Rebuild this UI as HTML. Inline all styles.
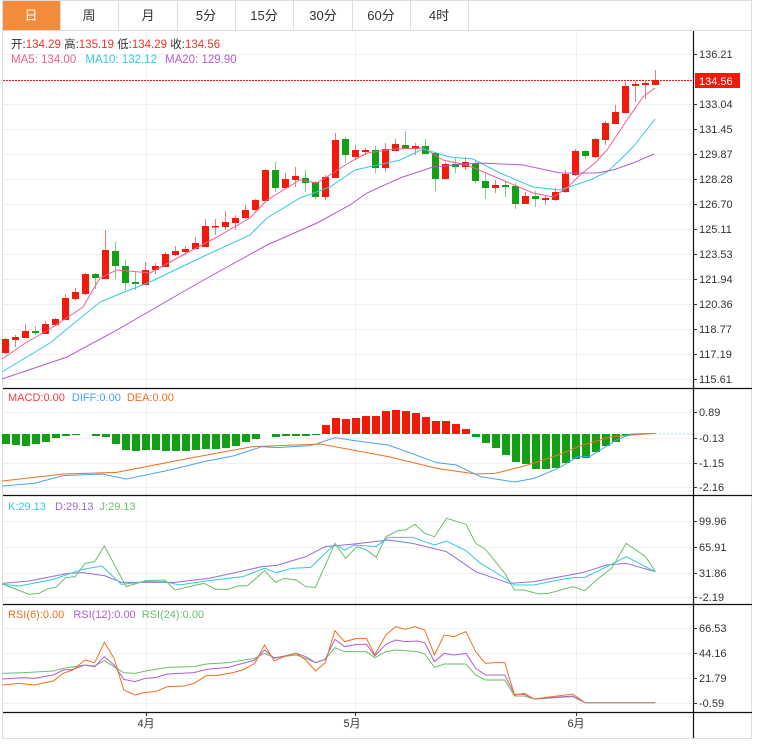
<!DOCTYPE html>
<html><head><meta charset="utf-8"><style>
html,body{margin:0;padding:0;background:#fff;width:760px;height:750px;overflow:hidden}
svg{position:absolute;left:0;top:0;font-family:"Liberation Sans","Noto Sans CJK SC",sans-serif}
</style></head><body>
<svg width="760" height="750" viewBox="0 0 760 750" xmlns="http://www.w3.org/2000/svg">
<!-- outer -->
<rect x="2.5" y="0.5" width="749" height="738" fill="#fff" stroke="#ddd"/>
<!-- tabs -->
<rect x="3" y="1" width="57" height="29" fill="#f28c3c"/>
<g stroke="#ddd"><line x1="60.5" y1="0" x2="60.5" y2="30"/><line x1="118.5" y1="0" x2="118.5" y2="30"/><line x1="177.5" y1="0" x2="177.5" y2="30"/><line x1="235.5" y1="0" x2="235.5" y2="30"/><line x1="293.5" y1="0" x2="293.5" y2="30"/><line x1="352.5" y1="0" x2="352.5" y2="30"/><line x1="410.5" y1="0" x2="410.5" y2="30"/><line x1="468.5" y1="0" x2="468.5" y2="30"/><line x1="2" y1="30.5" x2="752" y2="30.5"/></g>
<g font-size="13" text-anchor="middle" fill="#333">
<text x="31" y="20" fill="#fff">日</text><text x="89" y="20">周</text><text x="148" y="20">月</text><text x="206" y="20">5分</text><text x="264" y="20">15分</text><text x="323" y="20">30分</text><text x="381" y="20">60分</text><text x="439" y="20">4时</text></g>
<!-- grid -->
<g stroke="#edf1f4" stroke-width="1">
<line x1="3" y1="54.5" x2="693" y2="54.5"/><line x1="3" y1="104.5" x2="693" y2="104.5"/><line x1="3" y1="129.5" x2="693" y2="129.5"/><line x1="3" y1="154.5" x2="693" y2="154.5"/><line x1="3" y1="179.5" x2="693" y2="179.5"/><line x1="3" y1="204.5" x2="693" y2="204.5"/><line x1="3" y1="229.5" x2="693" y2="229.5"/><line x1="3" y1="254.5" x2="693" y2="254.5"/><line x1="3" y1="279.5" x2="693" y2="279.5"/><line x1="3" y1="304.5" x2="693" y2="304.5"/><line x1="3" y1="329.5" x2="693" y2="329.5"/><line x1="3" y1="354.5" x2="693" y2="354.5"/><line x1="3" y1="379.5" x2="693" y2="379.5"/>
<line x1="3" y1="412.5" x2="693" y2="412.5"/><line x1="3" y1="438.5" x2="693" y2="438.5"/><line x1="3" y1="463.5" x2="693" y2="463.5"/><line x1="3" y1="487.5" x2="693" y2="487.5"/>
<line x1="3" y1="521.5" x2="693" y2="521.5"/><line x1="3" y1="547.5" x2="693" y2="547.5"/><line x1="3" y1="573.5" x2="693" y2="573.5"/><line x1="3" y1="597.5" x2="693" y2="597.5"/>
<line x1="3" y1="628.5" x2="693" y2="628.5"/><line x1="3" y1="653.5" x2="693" y2="653.5"/><line x1="3" y1="678.5" x2="693" y2="678.5"/><line x1="3" y1="703.5" x2="693" y2="703.5"/>
<line x1="146.5" y1="31" x2="146.5" y2="712"/><line x1="355.5" y1="31" x2="355.5" y2="712"/><line x1="576.5" y1="31" x2="576.5" y2="712"/>
</g>
<!-- legends -->
<g font-size="11.5">
<text x="11" y="48" fill="#333">开:<tspan fill="#f0352a">134.29</tspan>  高:<tspan fill="#f0352a">135.19</tspan>  低:<tspan fill="#f0352a">134.29</tspan>  收:<tspan fill="#f0352a">134.56</tspan></text>
<text x="11" y="63" fill="#f0608f">MA5: 134.00 <tspan fill="#35c8df" dx="6">MA10: 132.12</tspan><tspan fill="#b45cd0" dx="8">MA20: 129.90</tspan></text>
<text x="8" y="401" fill="#f04040" font-size="11">MACD:0.00 <tspan fill="#4aa3f0" dx="4">DIFF:0.00</tspan><tspan fill="#f07020" dx="6">DEA:0.00</tspan></text>
<text x="8" y="510" fill="#35c8df" font-size="11">K:29.13 <tspan fill="#9a6ad8" dx="6">D:29.13</tspan><tspan fill="#6cbf6c" dx="6">J:29.13</tspan></text>
<text x="8" y="618" fill="#f07020" font-size="11">RSI(6):0.00 <tspan fill="#b45cd0" dx="6">RSI(12):0.00</tspan><tspan fill="#6cbf6c" dx="6">RSI(24):0.00</tspan></text>
</g>
<!-- price line -->
<line x1="3" y1="80.5" x2="693" y2="80.5" stroke="#f21a0a" stroke-dasharray="2,1"/>
<!-- candles -->
<g stroke-width="1">
<g id="c"></g>
</g>
<g>
<line x1="5.5" y1="338" x2="5.5" y2="354" stroke="#f57a70"/><rect x="2" y="339" width="7" height="14" fill="#f21a0a"/>
<line x1="15.5" y1="335" x2="15.5" y2="347" stroke="#f57a70"/><rect x="12" y="337" width="7" height="3" fill="#f21a0a"/>
<line x1="25.5" y1="324" x2="25.5" y2="338" stroke="#f57a70"/><rect x="22" y="331" width="7" height="7" fill="#f21a0a"/>
<line x1="35.5" y1="326" x2="35.5" y2="335" stroke="#7ccf7c"/><rect x="32" y="331" width="7" height="2" fill="#13a016"/>
<line x1="45.5" y1="321" x2="45.5" y2="334" stroke="#f57a70"/><rect x="42" y="324" width="7" height="10" fill="#f21a0a"/>
<line x1="55.5" y1="318" x2="55.5" y2="325" stroke="#f57a70"/><rect x="52" y="319" width="7" height="6" fill="#f21a0a"/>
<line x1="65.5" y1="294" x2="65.5" y2="320" stroke="#f57a70"/><rect x="62" y="298" width="7" height="22" fill="#f21a0a"/>
<line x1="75.5" y1="288" x2="75.5" y2="300" stroke="#f57a70"/><rect x="72" y="292" width="7" height="7" fill="#f21a0a"/>
<line x1="85.5" y1="273" x2="85.5" y2="295" stroke="#f57a70"/><rect x="82" y="274" width="7" height="20" fill="#f21a0a"/>
<line x1="95.5" y1="273" x2="95.5" y2="289" stroke="#7ccf7c"/><rect x="92" y="274" width="7" height="4" fill="#13a016"/>
<line x1="105.5" y1="230" x2="105.5" y2="279" stroke="#f57a70"/><rect x="102" y="250" width="7" height="29" fill="#f21a0a"/>
<line x1="115.5" y1="242" x2="115.5" y2="279" stroke="#7ccf7c"/><rect x="112" y="251" width="7" height="15" fill="#13a016"/>
<line x1="125.5" y1="260" x2="125.5" y2="290" stroke="#7ccf7c"/><rect x="122" y="266" width="7" height="17" fill="#13a016"/>
<line x1="135.5" y1="272" x2="135.5" y2="290" stroke="#7ccf7c"/><rect x="132" y="282" width="7" height="2" fill="#13a016"/>
<line x1="145.5" y1="262" x2="145.5" y2="285" stroke="#f57a70"/><rect x="142" y="270" width="7" height="15" fill="#f21a0a"/>
<line x1="155.5" y1="263" x2="155.5" y2="274" stroke="#f57a70"/><rect x="152" y="266" width="7" height="4" fill="#f21a0a"/>
<line x1="165.5" y1="252" x2="165.5" y2="267" stroke="#f57a70"/><rect x="162" y="254" width="7" height="13" fill="#f21a0a"/>
<line x1="175.5" y1="246" x2="175.5" y2="256" stroke="#f57a70"/><rect x="172" y="251" width="7" height="4" fill="#f21a0a"/>
<line x1="185.5" y1="246" x2="185.5" y2="255" stroke="#f57a70"/><rect x="182" y="249" width="7" height="3" fill="#f21a0a"/>
<line x1="195.5" y1="237" x2="195.5" y2="249" stroke="#f57a70"/><rect x="192" y="243" width="7" height="6" fill="#f21a0a"/>
<line x1="205.5" y1="219" x2="205.5" y2="247" stroke="#f57a70"/><rect x="202" y="226" width="7" height="21" fill="#f21a0a"/>
<line x1="215.5" y1="219" x2="215.5" y2="235" stroke="#f57a70"/><rect x="212" y="226" width="7" height="1.5" fill="#f21a0a"/>
<line x1="225.5" y1="211" x2="225.5" y2="230" stroke="#f57a70"/><rect x="222" y="222" width="7" height="5" fill="#f21a0a"/>
<line x1="235.5" y1="215" x2="235.5" y2="230" stroke="#f57a70"/><rect x="232" y="218" width="7" height="5" fill="#f21a0a"/>
<line x1="245.5" y1="205" x2="245.5" y2="219" stroke="#f57a70"/><rect x="242" y="210" width="7" height="8" fill="#f21a0a"/>
<line x1="255.5" y1="199" x2="255.5" y2="211" stroke="#f57a70"/><rect x="252" y="200" width="7" height="10" fill="#f21a0a"/>
<line x1="265.5" y1="169" x2="265.5" y2="202" stroke="#f57a70"/><rect x="262" y="170" width="7" height="31" fill="#f21a0a"/>
<line x1="275.5" y1="162" x2="275.5" y2="192" stroke="#7ccf7c"/><rect x="272" y="170" width="7" height="18" fill="#13a016"/>
<line x1="285.5" y1="173" x2="285.5" y2="188" stroke="#f57a70"/><rect x="282" y="179" width="7" height="9" fill="#f21a0a"/>
<line x1="295.5" y1="167" x2="295.5" y2="187" stroke="#f57a70"/><rect x="292" y="176" width="7" height="4" fill="#f21a0a"/>
<line x1="305.5" y1="170" x2="305.5" y2="192" stroke="#7ccf7c"/><rect x="302" y="178" width="7" height="5" fill="#13a016"/>
<line x1="315.5" y1="181" x2="315.5" y2="199" stroke="#7ccf7c"/><rect x="312" y="182" width="7" height="15" fill="#13a016"/>
<line x1="325.5" y1="175" x2="325.5" y2="200" stroke="#f57a70"/><rect x="322" y="177" width="7" height="20" fill="#f21a0a"/>
<line x1="335.5" y1="133" x2="335.5" y2="178" stroke="#f57a70"/><rect x="332" y="140" width="7" height="38" fill="#f21a0a"/>
<line x1="345.5" y1="137" x2="345.5" y2="163" stroke="#7ccf7c"/><rect x="342" y="139" width="7" height="16" fill="#13a016"/>
<line x1="355.5" y1="145" x2="355.5" y2="160" stroke="#f57a70"/><rect x="352" y="150" width="7" height="7" fill="#f21a0a"/>
<line x1="365.5" y1="148" x2="365.5" y2="155" stroke="#f57a70"/><rect x="362" y="150" width="7" height="2" fill="#f21a0a"/>
<line x1="375.5" y1="146" x2="375.5" y2="173" stroke="#7ccf7c"/><rect x="372" y="150" width="7" height="18" fill="#13a016"/>
<line x1="385.5" y1="143" x2="385.5" y2="172" stroke="#f57a70"/><rect x="382" y="149" width="7" height="19" fill="#f21a0a"/>
<line x1="395.5" y1="139" x2="395.5" y2="151" stroke="#f57a70"/><rect x="392" y="144" width="7" height="7" fill="#f21a0a"/>
<line x1="405.5" y1="131" x2="405.5" y2="149" stroke="#7ccf7c"/><rect x="402" y="145" width="7" height="4" fill="#13a016"/>
<line x1="415.5" y1="143" x2="415.5" y2="155" stroke="#f57a70"/><rect x="412" y="146" width="7" height="3" fill="#f21a0a"/>
<line x1="425.5" y1="139" x2="425.5" y2="154" stroke="#7ccf7c"/><rect x="422" y="146" width="7" height="8" fill="#13a016"/>
<line x1="435.5" y1="153" x2="435.5" y2="191" stroke="#7ccf7c"/><rect x="432" y="153" width="7" height="26" fill="#13a016"/>
<line x1="445.5" y1="162" x2="445.5" y2="179" stroke="#f57a70"/><rect x="442" y="164" width="7" height="15" fill="#f21a0a"/>
<line x1="455.5" y1="158" x2="455.5" y2="173" stroke="#7ccf7c"/><rect x="452" y="164" width="7" height="3" fill="#13a016"/>
<line x1="465.5" y1="157" x2="465.5" y2="170" stroke="#f57a70"/><rect x="462" y="162" width="7" height="5" fill="#f21a0a"/>
<line x1="475.5" y1="160" x2="475.5" y2="183" stroke="#7ccf7c"/><rect x="472" y="163" width="7" height="18" fill="#13a016"/>
<line x1="485.5" y1="174" x2="485.5" y2="199" stroke="#7ccf7c"/><rect x="482" y="181" width="7" height="7" fill="#13a016"/>
<line x1="495.5" y1="180" x2="495.5" y2="193" stroke="#f57a70"/><rect x="492" y="185" width="7" height="3" fill="#f21a0a"/>
<line x1="505.5" y1="182" x2="505.5" y2="197" stroke="#7ccf7c"/><rect x="502" y="185" width="7" height="2" fill="#13a016"/>
<line x1="515.5" y1="183" x2="515.5" y2="209" stroke="#7ccf7c"/><rect x="512" y="186" width="7" height="18" fill="#13a016"/>
<line x1="525.5" y1="192" x2="525.5" y2="204" stroke="#f57a70"/><rect x="522" y="196" width="7" height="8" fill="#f21a0a"/>
<line x1="535.5" y1="191" x2="535.5" y2="207" stroke="#7ccf7c"/><rect x="532" y="196" width="7" height="3" fill="#13a016"/>
<line x1="545.5" y1="195" x2="545.5" y2="205" stroke="#f57a70"/><rect x="542" y="198" width="7" height="2" fill="#f21a0a"/>
<line x1="555.5" y1="188" x2="555.5" y2="201" stroke="#f57a70"/><rect x="552" y="192" width="7" height="8" fill="#f21a0a"/>
<line x1="565.5" y1="170" x2="565.5" y2="193" stroke="#f57a70"/><rect x="562" y="174" width="7" height="18" fill="#f21a0a"/>
<line x1="575.5" y1="149" x2="575.5" y2="176" stroke="#f57a70"/><rect x="572" y="151" width="7" height="24" fill="#f21a0a"/>
<line x1="585.5" y1="150" x2="585.5" y2="159" stroke="#7ccf7c"/><rect x="582" y="151" width="7" height="5" fill="#13a016"/>
<line x1="595.5" y1="138" x2="595.5" y2="158" stroke="#f57a70"/><rect x="592" y="139" width="7" height="18" fill="#f21a0a"/>
<line x1="605.5" y1="121" x2="605.5" y2="145" stroke="#f57a70"/><rect x="602" y="123" width="7" height="17" fill="#f21a0a"/>
<line x1="615.5" y1="105" x2="615.5" y2="124" stroke="#f57a70"/><rect x="612" y="112" width="7" height="12" fill="#f21a0a"/>
<line x1="625.5" y1="82" x2="625.5" y2="113" stroke="#f57a70"/><rect x="622" y="86" width="7" height="27" fill="#f21a0a"/>
<line x1="635.5" y1="81" x2="635.5" y2="102" stroke="#f57a70"/><rect x="632" y="84" width="7" height="2" fill="#f21a0a"/>
<line x1="645.5" y1="80" x2="645.5" y2="99" stroke="#f57a70"/><rect x="642" y="83" width="7" height="2" fill="#f21a0a"/>
<line x1="655.5" y1="70" x2="655.5" y2="85" stroke="#f57a70"/><rect x="652" y="80" width="7" height="5" fill="#f21a0a"/>
</g>
<!-- MAs -->
<g fill="none" stroke-width="1">
<polyline stroke="#f0608f" points="2,359 27,342 50,329 83,307 100,278 117,270 150,273 183,255 217,237 250,218 267,200 300,180 317,183 333,173 350,162 367,153 395,149 423,148 443,160 467,165 500,179 533,193 553,197 567,188 580,175 595,163 607,150 627,120 643,97 655,88"/>
<polyline stroke="#35c8df" points="2,372 50,343 100,302 117,295 150,282 200,258 250,235 267,218 300,198 330,187 355,170 400,160 423,149 450,157 473,159 500,173 533,187 560,190 590,180 607,172 620,160 633,147 645,132 655,119"/>
<polyline stroke="#b45cd0" points="2,379 67,357 117,330 200,282 267,245 317,223 350,205 367,193 400,178 433,167 467,164 480,163 523,165 560,173 597,173 613,170 633,163 654,154"/>
</g>
<!-- MACD bars -->
<g fill="#13a016">
<rect x="2" y="434" width="8" height="10"/><rect x="12" y="434" width="8" height="11"/><rect x="22" y="434" width="8" height="12"/><rect x="32" y="434" width="8" height="10"/><rect x="42" y="434" width="8" height="8"/><rect x="52" y="434" width="8" height="4"/><rect x="62" y="434" width="8" height="2"/><rect x="72" y="434" width="8" height="1"/><rect x="92" y="434" width="8" height="2"/><rect x="102" y="434" width="8" height="3"/><rect x="112" y="434" width="8" height="10"/><rect x="122" y="434" width="8" height="16"/><rect x="132" y="434" width="8" height="17"/><rect x="142" y="434" width="8" height="16"/><rect x="152" y="434" width="8" height="16"/><rect x="162" y="434" width="8" height="17"/><rect x="172" y="434" width="8" height="17"/><rect x="182" y="434" width="8" height="17"/><rect x="192" y="434" width="8" height="16"/><rect x="202" y="434" width="8" height="15"/><rect x="212" y="434" width="8" height="15"/><rect x="222" y="434" width="8" height="14"/><rect x="232" y="434" width="8" height="12"/><rect x="242" y="434" width="8" height="8"/><rect x="252" y="434" width="8" height="5"/><rect x="272" y="434" width="8" height="3"/><rect x="282" y="434" width="8" height="2"/><rect x="292" y="434" width="8" height="2"/><rect x="302" y="434" width="8" height="2"/><rect x="312" y="434" width="8" height="1"/>
<rect x="472" y="434" width="8" height="3"/><rect x="482" y="434" width="8" height="9"/><rect x="492" y="434" width="8" height="14"/><rect x="502" y="434" width="8" height="21"/><rect x="512" y="434" width="8" height="28"/><rect x="522" y="434" width="8" height="30"/><rect x="532" y="434" width="8" height="35"/><rect x="542" y="434" width="8" height="35"/><rect x="552" y="434" width="8" height="34"/><rect x="562" y="434" width="8" height="29"/><rect x="572" y="434" width="8" height="25"/><rect x="582" y="434" width="8" height="24"/><rect x="592" y="434" width="8" height="18"/><rect x="602" y="434" width="8" height="12"/><rect x="612" y="434" width="8" height="8"/><rect x="622" y="434" width="8" height="2"/><rect x="632" y="434" width="8" height="1"/>
</g>
<g fill="#f21a0a">
<rect x="322" y="425" width="8" height="9"/><rect x="332" y="418" width="8" height="16"/><rect x="342" y="419" width="8" height="15"/><rect x="352" y="418" width="8" height="16"/><rect x="362" y="416" width="8" height="18"/><rect x="372" y="416" width="8" height="18"/><rect x="382" y="411" width="8" height="23"/><rect x="392" y="410" width="8" height="24"/><rect x="402" y="411" width="8" height="23"/><rect x="412" y="413" width="8" height="21"/><rect x="422" y="417" width="8" height="17"/><rect x="432" y="421" width="8" height="13"/><rect x="442" y="421" width="8" height="13"/><rect x="452" y="424" width="8" height="10"/><rect x="462" y="429" width="8" height="5"/>
</g>
<line x1="655" y1="434" x2="693" y2="434" stroke="#9fd8f0" stroke-dasharray="2,2"/>
<!-- indicator lines in zoom coords -->
<g transform="translate(0,380) scale(0.4854,0.33333)" fill="none" stroke-width="1">
<polyline vector-effect="non-scaling-stroke" stroke="#f07020" points="5,303 130,282 240,277 400,232 520,200 660,192 800,230 900,265 980,282 1020,280 1080,258 1150,225 1200,195 1260,170 1350,160"/>
<polyline vector-effect="non-scaling-stroke" stroke="#4aa3f0" points="5,318 70,310 130,287 210,282 260,297 350,270 420,245 480,228 540,200 570,203 640,197 690,173 730,182 800,195 900,248 940,255 990,290 1060,306 1100,295 1150,265 1190,230 1215,230 1270,180 1300,162 1350,160"/>
<polyline vector-effect="non-scaling-stroke" stroke="#9a6ad8" points="5,610 60,603 140,580 170,578 215,587 250,607 360,607 430,595 540,560 570,556 630,530 670,500 730,492 800,480 850,490 920,515 980,575 1050,610 1100,605 1200,578 1250,555 1290,550 1350,575"/>
<polyline vector-effect="non-scaling-stroke" stroke="#35c8df" points="5,613 40,618 110,598 140,583 170,568 210,558 250,613 300,605 340,605 370,615 430,602 500,590 545,565 570,578 600,565 640,562 690,492 710,510 730,495 775,500 800,472 850,472 895,495 920,483 960,512 990,550 1030,585 1060,615 1100,615 1150,600 1180,593 1205,592 1250,560 1290,530 1350,575"/>
<polyline vector-effect="non-scaling-stroke" stroke="#6cbf6c" points="5,612 60,643 80,640 100,625 115,622 135,593 155,590 175,550 195,545 215,498 260,620 300,602 340,600 360,630 420,610 445,628 470,628 490,618 510,617 545,572 568,607 585,595 610,600 630,620 650,622 690,490 712,535 735,500 755,510 775,532 795,470 820,452 835,450 855,433 875,460 895,470 920,415 960,433 980,490 1000,508 1040,580 1060,630 1080,630 1110,642 1130,640 1180,620 1205,632 1230,598 1260,565 1290,490 1330,530 1350,575"/>
<polyline vector-effect="non-scaling-stroke" stroke="#6cbf6c" points="5,880 50,878 110,873 130,865 175,855 195,858 215,842 235,860 255,878 278,880 300,873 345,862 400,860 425,852 470,848 525,835 545,820 565,833 610,825 630,835 650,848 670,838 690,803 710,815 755,815 772,833 795,815 815,810 860,815 875,822 895,862 915,852 960,852 980,885 1000,900 1040,900 1060,948 1080,948 1100,957 1180,950 1205,968 1350,968"/>
<polyline vector-effect="non-scaling-stroke" stroke="#b45cd0" points="5,897 50,893 70,895 110,885 130,870 150,868 175,855 195,860 215,830 235,855 255,898 278,905 300,895 320,893 345,882 400,878 425,868 470,862 500,850 525,840 545,810 565,835 610,820 630,830 650,848 670,838 690,778 710,800 735,793 755,793 772,828 795,793 815,780 835,785 860,783 875,788 895,845 915,820 935,825 960,820 980,865 1000,885 1040,885 1060,943 1080,943 1100,957 1180,948 1205,968 1350,968"/>
<polyline vector-effect="non-scaling-stroke" stroke="#f07020" points="5,915 40,910 70,915 110,903 130,880 150,870 175,840 195,848 215,787 235,835 255,930 278,945 300,937 320,935 345,920 380,918 400,910 425,887 445,887 480,878 500,870 525,850 545,795 565,843 585,830 610,820 630,840 650,873 670,848 690,752 710,785 735,775 755,775 772,825 795,765 815,740 835,748 855,740 875,750 895,825 915,765 935,770 960,755 980,815 1000,850 1020,848 1040,848 1060,945 1080,940 1100,957 1180,942 1205,968 1350,968"/>
<polyline vector-effect="non-scaling-stroke" stroke="#a0a090" points="1205,968 1350,968"/>
</g>
<!-- separators & axis -->
<g stroke="#111" stroke-width="1.2">
<line x1="3" y1="388.5" x2="752" y2="388.5"/><line x1="3" y1="495.5" x2="752" y2="495.5"/><line x1="3" y1="604.5" x2="752" y2="604.5"/><line x1="3" y1="712.5" x2="752" y2="712.5"/>
<line x1="693.5" y1="31" x2="693.5" y2="738"/>
</g>
<g stroke="#333"><line x1="693" y1="54.5" x2="697" y2="54.5"/><line x1="693" y1="104.5" x2="697" y2="104.5"/><line x1="693" y1="129.5" x2="697" y2="129.5"/><line x1="693" y1="154.5" x2="697" y2="154.5"/><line x1="693" y1="179.5" x2="697" y2="179.5"/><line x1="693" y1="204.5" x2="697" y2="204.5"/><line x1="693" y1="229.5" x2="697" y2="229.5"/><line x1="693" y1="254.5" x2="697" y2="254.5"/><line x1="693" y1="279.5" x2="697" y2="279.5"/><line x1="693" y1="304.5" x2="697" y2="304.5"/><line x1="693" y1="329.5" x2="697" y2="329.5"/><line x1="693" y1="354.5" x2="697" y2="354.5"/><line x1="693" y1="379.5" x2="697" y2="379.5"/>
<line x1="693" y1="412.5" x2="697" y2="412.5"/><line x1="693" y1="438.5" x2="697" y2="438.5"/><line x1="693" y1="463.5" x2="697" y2="463.5"/><line x1="693" y1="487.5" x2="697" y2="487.5"/><line x1="693" y1="521.5" x2="697" y2="521.5"/><line x1="693" y1="547.5" x2="697" y2="547.5"/><line x1="693" y1="573.5" x2="697" y2="573.5"/><line x1="693" y1="597.5" x2="697" y2="597.5"/><line x1="693" y1="628.5" x2="697" y2="628.5"/><line x1="693" y1="653.5" x2="697" y2="653.5"/><line x1="693" y1="678.5" x2="697" y2="678.5"/><line x1="693" y1="703.5" x2="697" y2="703.5"/>
<line x1="146.5" y1="712" x2="146.5" y2="716"/><line x1="355.5" y1="712" x2="355.5" y2="716"/><line x1="576.5" y1="712" x2="576.5" y2="716"/></g>
<g font-size="11" fill="#333">
<text x="699" y="58">136.21</text><text x="699" y="108">133.04</text><text x="699" y="133">131.45</text><text x="699" y="158">129.87</text><text x="699" y="183">128.28</text><text x="699" y="208">126.70</text><text x="699" y="233">125.11</text><text x="699" y="258">123.53</text><text x="699" y="283">121.94</text><text x="699" y="308">120.36</text><text x="699" y="333">118.77</text><text x="699" y="358">117.19</text><text x="699" y="383">115.61</text>
<text x="699" y="416">0.89</text><text x="699" y="442">-0.13</text><text x="699" y="467">-1.15</text><text x="699" y="491">-2.16</text>
<text x="699" y="525">99.96</text><text x="699" y="551">65.91</text><text x="699" y="577">31.86</text><text x="699" y="601">-2.19</text>
<text x="699" y="632">66.53</text><text x="699" y="657">44.16</text><text x="699" y="682">21.79</text><text x="699" y="707">-0.59</text>
<text x="146" y="727" text-anchor="middle">4月</text><text x="352" y="727" text-anchor="middle">5月</text><text x="576" y="727" text-anchor="middle">6月</text>
</g>
<rect x="695" y="73" width="45" height="15" fill="#f21a0a"/>
<text x="699" y="85" font-size="11" fill="#fff">134.56</text>
</svg>
</body></html>
